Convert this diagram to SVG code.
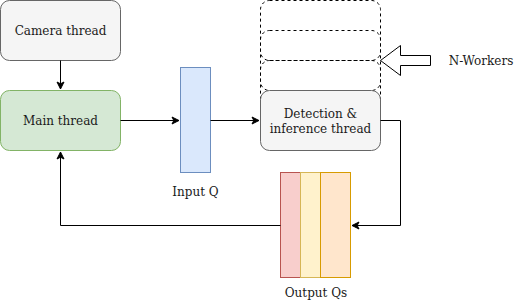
<svg xmlns="http://www.w3.org/2000/svg" width="531" height="303" viewBox="0 0 531 303">
<style>
text{font-family:'DejaVu Serif','Liberation Serif',serif;font-size:12px;fill:#1a1a1a;text-anchor:middle;dominant-baseline:central}
.c{fill:none;stroke:#000;stroke-width:1}
.d{fill:none;stroke:#000;stroke-dasharray:3 3}
</style>
<defs>
<marker id="a" markerWidth="10" markerHeight="10" refX="8" refY="5" orient="auto" markerUnits="userSpaceOnUse">
<path d="M1,1.5 L8,5 L1,8.5 L2.8,5 Z" fill="#000" stroke="#000"/>
</marker>
</defs>
<g id="workers">
<rect x="260.5" y="0.5" width="120" height="60" rx="9" class="d"/>
<rect x="260.5" y="30.5" width="120" height="60" rx="9" class="d"/>
<rect x="260.5" y="60.5" width="120" height="60" rx="9" class="d"/>
</g>
<g id="camera">
<rect x="0.5" y="0.5" width="120" height="60" rx="9" fill="#f5f5f5" stroke="#666"/>
<text x="60.5" y="31">Camera thread</text>
</g>
<g id="main">
<rect x="0.5" y="90.5" width="120" height="60" rx="9" fill="#d5e8d4" stroke="#82b366"/>
<text x="60.5" y="121">Main thread</text>
</g>
<g id="inputq">
<rect x="180.5" y="67.5" width="30" height="105" fill="#dae8fc" stroke="#6c8ebf"/>
<text x="195.5" y="192">Input Q</text>
</g>
<g id="detection">
<rect x="260.5" y="90.5" width="120" height="60" rx="9" fill="#f5f5f5" stroke="#666"/>
<text x="320.5" y="114">Detection &amp;</text>
<text x="320.5" y="128.5">inference thread</text>
</g>
<g id="outputq">
<rect x="280.5" y="172.5" width="20" height="105" fill="#f8cecc" stroke="#b85450"/>
<rect x="300.5" y="172.5" width="20" height="105" fill="#fff2cc" stroke="#d6b656"/>
<rect x="320.5" y="172.5" width="30" height="105" fill="#ffe6cc" stroke="#d79b00"/>
<text x="316" y="293">Output Qs</text>
</g>
<g id="nworkers">
<path d="M380.5,60.5 L400.5,45.5 L400.5,55.5 L430.5,55.5 L430.5,65.5 L400.5,65.5 L400.5,75.5 Z" fill="#fff" stroke="#000"/>
<text x="481" y="61">N-Workers</text>
</g>
<g id="connectors">
<path d="M60.5,60.5 V89" class="c" marker-end="url(#a)"/>
<path d="M120.5,120.5 H179" class="c" marker-end="url(#a)"/>
<path d="M210.5,120.5 H259" class="c" marker-end="url(#a)"/>
<path d="M380.5,120.5 H400.5 V225.5 H352" class="c" marker-end="url(#a)"/>
<path d="M280.5,225.5 H60.5 V152" class="c" marker-end="url(#a)"/>
</g>
</svg>
